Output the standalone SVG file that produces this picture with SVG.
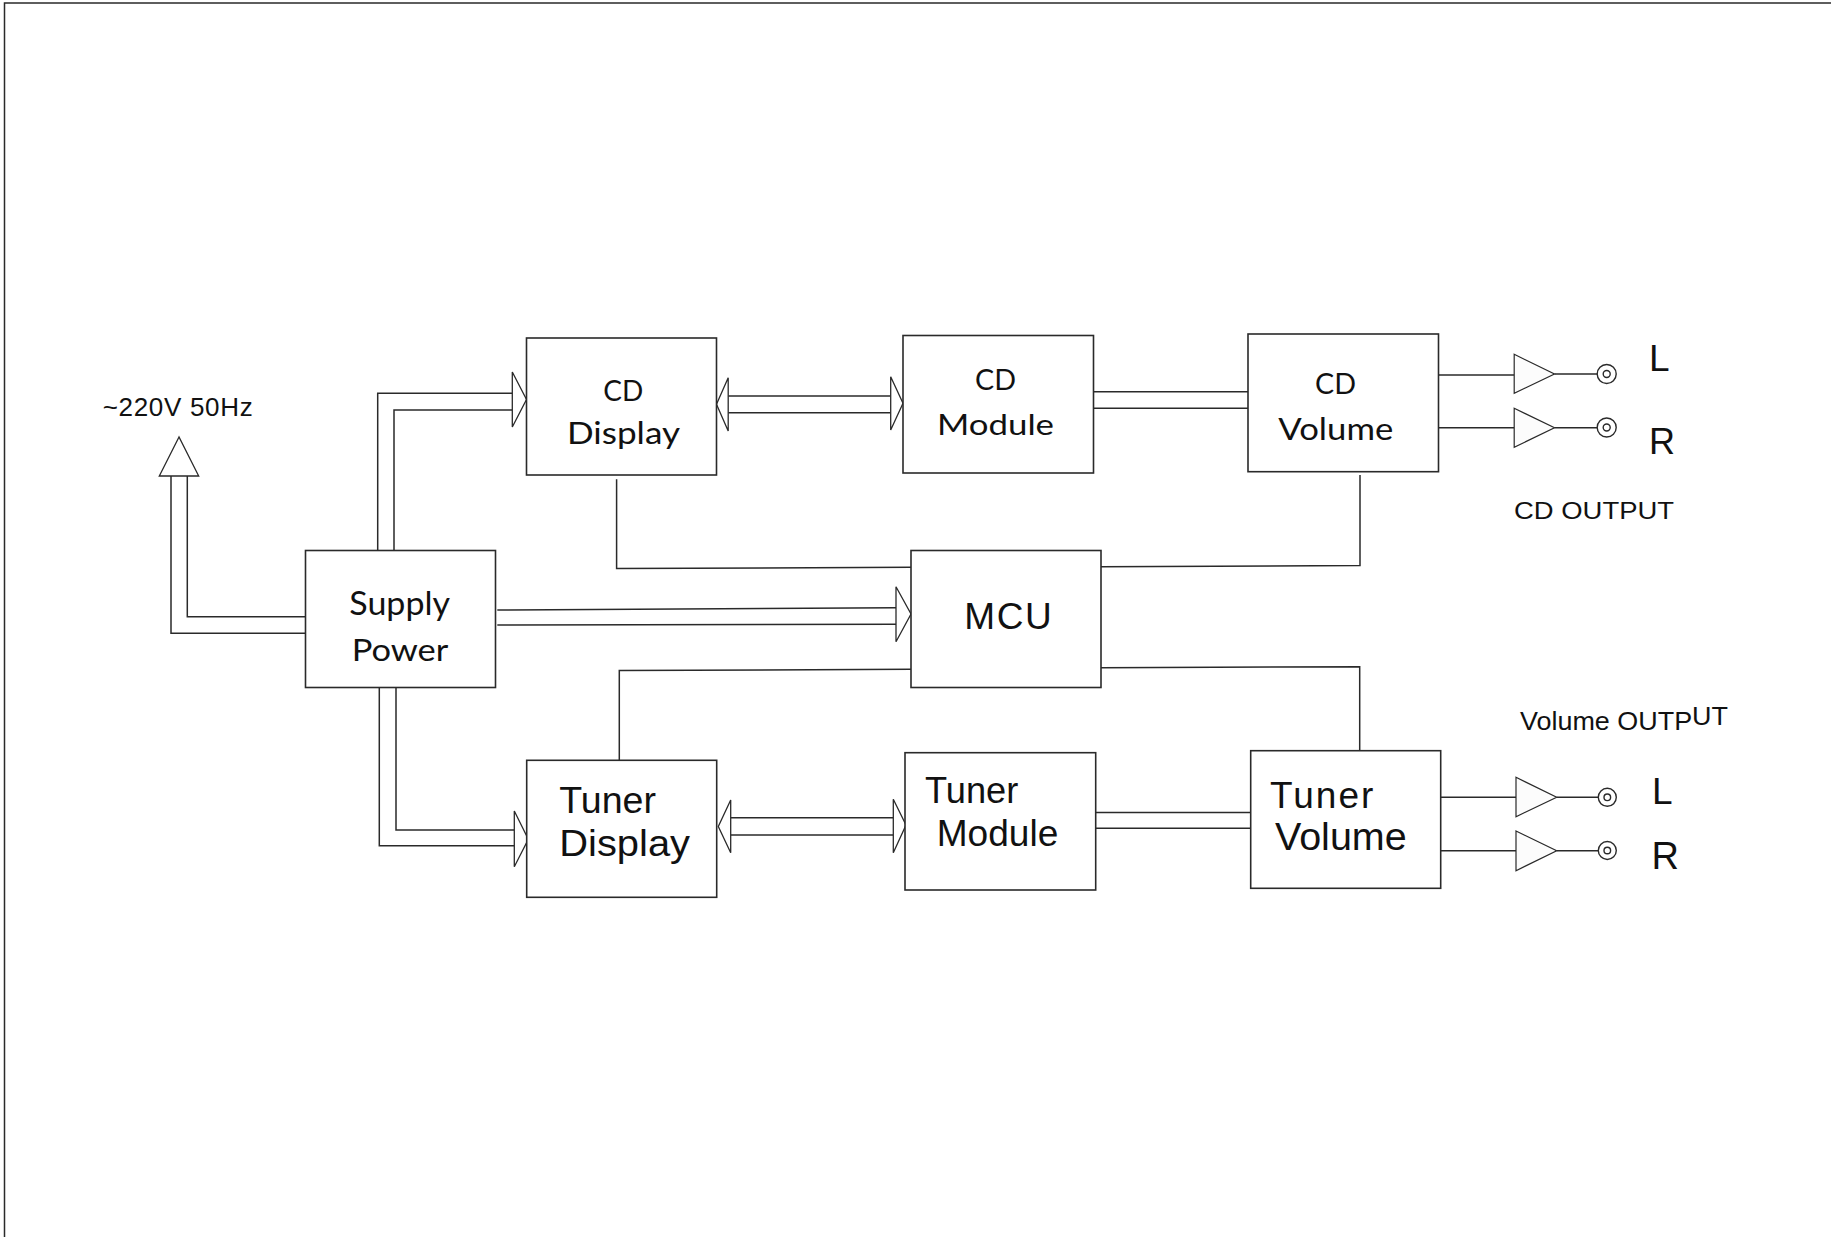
<svg xmlns="http://www.w3.org/2000/svg" width="1831" height="1237" viewBox="0 0 1831 1237">
<style>
.box{fill:#ffffff;stroke:#2a2a2a;stroke-width:1.6}
.ln{fill:none;stroke:#2a2a2a;stroke-width:1.5}
.ah{fill:#ffffff;stroke:#2a2a2a;stroke-width:1.3;stroke-linejoin:miter}
.amp{fill:#fcfcfc;stroke:#2a2a2a;stroke-width:1.2}
.jk{fill:#ffffff;stroke:#2a2a2a;stroke-width:1.4}
.cal{font-family:Lato,"Open Sans","Liberation Sans",sans-serif;fill:#111}
.ari{font-family:"Liberation Sans",Arial,sans-serif;fill:#111}
</style>
<rect x="0" y="0" width="1831" height="1237" fill="#ffffff"/>
<g id="frame">
<path class="ln" d="M4.5,1237 V3 H1831" stroke-width="2"/>
</g>
<g id="connectors">
<!-- 220V input -->
<path class="ln" d="M171,476 V633.3 H305.5"/>
<path class="ln" d="M187.3,476 V616.7 H305.5"/>
<polygon class="ah" points="179,437 159.3,476 198.7,476"/>
<!-- Supply to CD Display -->
<path class="ln" d="M377.7,550.5 V393.3 H512.3"/>
<path class="ln" d="M394,550.5 V410 H512.3"/>
<polygon class="ah" points="512.3,372 526.5,399.5 512.3,427"/>
<!-- Supply to Tuner Display -->
<path class="ln" d="M379.3,687.5 V845.7 H514.3"/>
<path class="ln" d="M396,687.5 V830 H514.3"/>
<polygon class="ah" points="514.3,811 528.3,839.3 514.3,866.7"/>
<!-- Supply to MCU -->
<path class="ln" d="M497.3,610 L896,607.7"/>
<path class="ln" d="M497.3,625 L896,624.3"/>
<polygon class="ah" points="896,586.7 911,614 896,641.7"/>
<!-- CD Display <-> CD Module -->
<path class="ln" d="M728.2,396 H890.7"/>
<path class="ln" d="M728.2,412.7 H890.7"/>
<polygon class="ah" points="728.2,377.7 716.5,404.3 728.2,431"/>
<polygon class="ah" points="890.7,376.7 903,403.3 890.7,430"/>
<!-- CD Module to CD Volume -->
<path class="ln" d="M1093.5,391.7 H1248"/>
<path class="ln" d="M1093.5,408.3 H1248"/>
<!-- Tuner Display <-> Tuner Module -->
<path class="ln" d="M730.7,817.7 H893.3"/>
<path class="ln" d="M730.7,835 H893.3"/>
<polygon class="ah" points="730.7,800 718.3,826.5 730.7,852.7"/>
<polygon class="ah" points="893.3,799.3 906,825 893.3,852.7"/>
<!-- Tuner Module to Tuner Volume -->
<path class="ln" d="M1095.7,812.5 H1250.7"/>
<path class="ln" d="M1095.7,828.2 H1250.7"/>
<!-- MCU control lines -->
<path class="ln" d="M616.6,479.3 V568.5 L911,567.3"/>
<path class="ln" d="M1360,475 V565.5 L1101,566.7"/>
<path class="ln" d="M911,669.3 L619.3,670.5 V760.3"/>
<path class="ln" d="M1101,667.7 L1359.7,666.7 V757"/>
<!-- CD outputs -->
<path class="ln" d="M1438.5,375 H1514.2"/>
<polygon class="amp" points="1514.2,354.3 1554.5,374 1514.2,393.3"/>
<path class="ln" d="M1554.5,374 H1597"/>
<circle class="jk" cx="1606.7" cy="374" r="9.5"/>
<circle class="jk" cx="1606.7" cy="374" r="3.5"/>
<path class="ln" d="M1438.5,427.7 H1514.2"/>
<polygon class="amp" points="1514.2,408.3 1554.5,427.7 1514.2,447.3"/>
<path class="ln" d="M1554.5,427.7 H1597"/>
<circle class="jk" cx="1606.7" cy="427.5" r="9.5"/>
<circle class="jk" cx="1606.7" cy="427.5" r="3.5"/>
<!-- Tuner outputs -->
<path class="ln" d="M1440.7,797.3 H1516"/>
<polygon class="amp" points="1516,777.3 1556.7,797.3 1516,816.7"/>
<path class="ln" d="M1556.7,797.3 H1598.3"/>
<circle class="jk" cx="1607.3" cy="797.3" r="9"/>
<circle class="jk" cx="1607.3" cy="797.3" r="3.3"/>
<path class="ln" d="M1440.7,850.7 H1516"/>
<polygon class="amp" points="1516,831 1556.7,850.7 1516,870.7"/>
<path class="ln" d="M1556.7,850.7 H1598.3"/>
<circle class="jk" cx="1607.3" cy="850.5" r="9"/>
<circle class="jk" cx="1607.3" cy="850.5" r="3.3"/>
</g>
<g id="node-cd-display">
<rect class="box" x="526.5" y="338" width="190" height="137"/>
<text class="cal" x="603.3" y="400.5" font-size="29" textLength="40" lengthAdjust="spacingAndGlyphs">CD</text>
<text class="cal" x="567" y="444" font-size="30" textLength="113" lengthAdjust="spacingAndGlyphs">Display</text>
</g>
<g id="node-cd-module">
<rect class="box" x="903" y="335.5" width="190.5" height="137.5"/>
<text class="cal" x="975" y="390" font-size="29" textLength="41" lengthAdjust="spacingAndGlyphs">CD</text>
<text class="cal" x="937" y="435" font-size="29" textLength="117" lengthAdjust="spacingAndGlyphs">Module</text>
</g>
<g id="node-cd-volume">
<rect class="box" x="1248" y="334" width="190.5" height="137.7"/>
<text class="cal" x="1315" y="394.3" font-size="29" textLength="41" lengthAdjust="spacingAndGlyphs">CD</text>
<text class="cal" x="1278.3" y="440" font-size="31" textLength="115" lengthAdjust="spacingAndGlyphs">Volume</text>
</g>
<g id="node-supply-power">
<rect class="box" x="305.5" y="550.5" width="190" height="137"/>
<text class="cal" x="349.3" y="615" font-size="32" textLength="100.7" lengthAdjust="spacingAndGlyphs">Supply</text>
<text class="cal" x="351.7" y="660.7" font-size="31" textLength="96.7" lengthAdjust="spacingAndGlyphs">Power</text>
</g>
<g id="node-mcu">
<rect class="box" x="911" y="550.5" width="190" height="137"/>
<text class="ari" x="964.3" y="629.3" font-size="37" textLength="87.4" lengthAdjust="spacing">MCU</text>
</g>
<g id="node-tuner-display">
<rect class="box" x="526.7" y="760.3" width="190" height="137"/>
<text class="ari" x="559.3" y="813.3" font-size="36" textLength="96.7" lengthAdjust="spacingAndGlyphs">Tuner</text>
<text class="ari" x="559.3" y="856" font-size="37" textLength="130.7" lengthAdjust="spacingAndGlyphs">Display</text>
</g>
<g id="node-tuner-module">
<rect class="box" x="905" y="752.7" width="190.7" height="137.3"/>
<text class="ari" x="925" y="803.3" font-size="36" textLength="93.3" lengthAdjust="spacingAndGlyphs">Tuner</text>
<text class="ari" x="936.7" y="846" font-size="37" textLength="121.6" lengthAdjust="spacingAndGlyphs">Module</text>
</g>
<g id="node-tuner-volume">
<rect class="box" x="1250.7" y="750.7" width="190" height="137.6"/>
<text class="ari" x="1270" y="808.3" font-size="37" textLength="103.3" lengthAdjust="spacing">Tuner</text>
<text class="ari" x="1275" y="850" font-size="38" textLength="131.7" lengthAdjust="spacingAndGlyphs">Volume</text>
</g>
<g id="labels">
<text class="ari" x="102.7" y="416" font-size="26" textLength="150" lengthAdjust="spacing">~220V 50Hz</text>
<text class="ari" x="1649" y="371" font-size="37">L</text>
<text class="ari" x="1649" y="454" font-size="36">R</text>
<text class="ari" x="1514" y="519" font-size="24" textLength="160" lengthAdjust="spacingAndGlyphs">CD OUTPUT</text>
<text class="ari" x="1520" y="730" font-size="25" textLength="208" lengthAdjust="spacingAndGlyphs">Volume OUTP<tspan dy="-5">UT</tspan></text>
<text class="ari" x="1652" y="804" font-size="37">L</text>
<text class="ari" x="1651.5" y="869" font-size="38">R</text>
</g>
</svg>
